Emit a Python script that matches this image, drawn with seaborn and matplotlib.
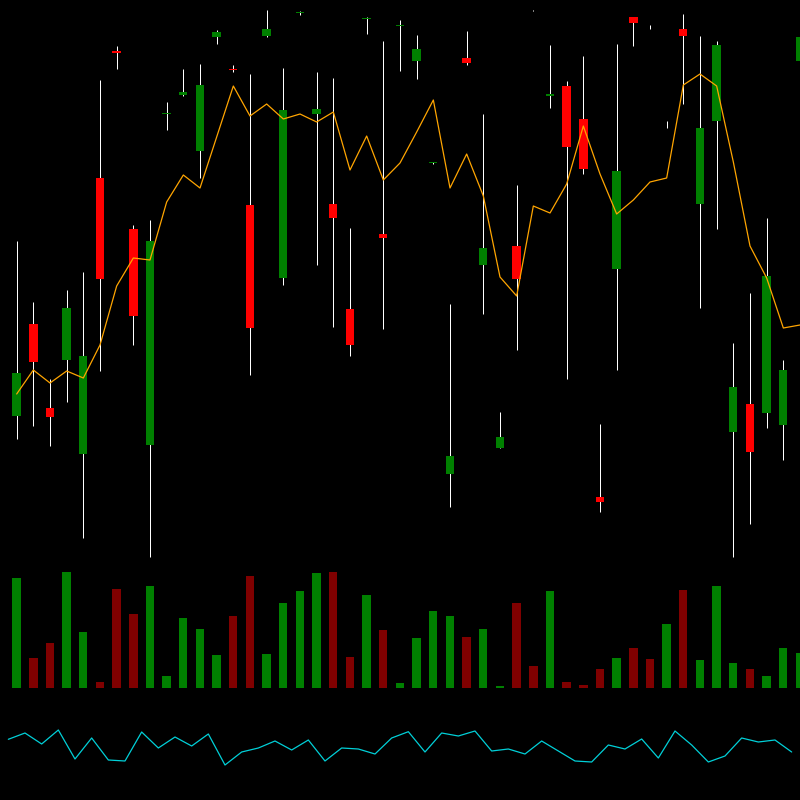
import numpy as np
import pandas as pd
import matplotlib
matplotlib.use('Agg')
import matplotlib.pyplot as plt
import seaborn as sns

# OHLC candles
opens = [114.4, 123.6, 115.2, 120.0, 110.6, 138.2, 150.9, 133.1, 111.5, 144.6, 146.5, 140.9,
         152.3, 149.1, 135.5, 152.4, 128.2, 154.7, 144.6, 135.6, 125.1, 154.1, 132.6, 153.4,
         149.9, 139.65, 108.6, 150.2, 129.5, 111.2, 131.4, 155.0, 146.4, 147.4, 144.1, 106.3,
         129.1, 154.3, 153.3, 143.52, 153.1, 135.6, 143.9, 112.8, 115.6, 114.7, 113.5, 149.9]
highs = [131.9, 125.8, 118.1, 127.0, 128.8, 148.0, 151.4, 133.5, 134.0, 145.8, 149.1, 149.6,
         153.0, 149.5, 148.6, 155.0, 149.2, 154.9, 148.8, 148.2, 133.2, 154.3, 151.9, 154.0,
         152.5, 139.8, 125.6, 152.9, 144.6, 114.8, 137.5, 155.05, 151.5, 147.9, 150.4, 113.6,
         151.6, 154.3, 153.5, 143.9, 154.6, 152.4, 151.9, 121.7, 126.7, 134.2, 120.0, 153.1]
lows = [112.1, 113.4, 111.4, 115.8, 102.2, 118.9, 149.1, 121.5, 100.3, 143.0, 146.4, 138.2,
        151.6, 148.8, 118.5, 152.3, 127.5, 154.5, 129.5, 123.3, 120.4, 152.6, 123.1, 148.9,
        148.1, 139.6, 105.3, 149.5, 124.6, 111.2, 121.0, 154.9, 145.2, 118.1, 138.6, 104.8,
        119.0, 151.4, 153.1, 143.2, 145.6, 125.2, 133.1, 100.3, 103.6, 113.2, 110.0, 149.7]
closes = [118.7, 119.8, 114.3, 125.2, 120.4, 128.1, 150.7, 124.4, 131.9, 144.7, 146.8, 147.5,
          152.8, 149.0, 123.2, 153.1, 145.0, 154.8, 145.1, 134.2, 121.5, 154.2, 132.2, 153.5,
          151.1, 139.75, 110.4, 149.7, 131.2, 112.3, 128.1, 154.97, 146.6, 141.3, 139.1, 105.8,
          138.9, 153.7, 153.25, 143.53, 152.4, 143.2, 151.5, 117.3, 110.8, 128.4, 119.0, 152.3]

# orange overlay line
avg_line = [116.6, 119.0, 117.7, 118.9, 118.2, 121.5, 127.4, 130.2, 130.0, 135.8, 138.5, 137.2,
            142.3, 147.4, 144.4, 145.6, 144.1, 144.6, 143.8, 144.8, 139.0, 142.4, 138.0, 139.7,
            142.8, 146.0, 137.2, 140.6, 136.4, 128.3, 126.4, 135.4, 134.7, 137.6, 143.4, 138.6,
            134.6, 136.0, 137.8, 138.2, 147.5, 148.6, 147.4, 139.8, 131.4, 128.2, 123.2, 123.5]

volume = [11040, 2970, 4470, 11570, 5570, 600, 9870, 7370, 10170, 1170, 6970, 5870,
          3270, 7170, 11170, 3370, 8470, 9670, 11470, 11570, 3070, 9270, 5770, 470,
          4970, 7670, 7170, 5070, 5870, 170, 8470, 2170, 9670, 570, 270, 1870,
          2970, 3970, 2870, 6370, 9770, 2770, 10170, 2470, 1870, 1170, 3970, 3470]

# cyan oscillator
osc = [60.7, 67, 56, 70, 41, 62, 40, 39, 68, 52, 63, 54,
       66, 35, 48, 52, 59, 50, 60, 39, 52, 51, 46, 62,
       68.3, 48, 67, 64, 69, 49, 51, 46, 59, 49, 39, 38,
       55, 51, 61, 42, 69, 55, 38, 44, 62, 58, 60, 48]

n = len(opens)
df = pd.DataFrame({'x': np.arange(1, n + 1), 'open': opens, 'high': highs, 'low': lows,
                   'close': closes, 'avg': avg_line, 'volume': volume})
df['up'] = df['close'] >= df['open']
df_osc = pd.DataFrame({'x': np.arange(n), 'osc': osc})

sns.set_style('dark', {'axes.facecolor': 'black', 'figure.facecolor': 'black'})

fig = plt.figure(figsize=(8, 8), dpi=100, facecolor='black')
ax1 = fig.add_axes([0, 0.3, 1, 0.7])
ax2 = fig.add_axes([0, 0.14, 1, 0.15])
ax3 = fig.add_axes([0, 0.0, 1, 0.125])

# candles
ax1.vlines(df['x'], df['low'], df['high'], color='white', linewidth=0.72, zorder=1)
body_bottom = np.minimum(df['open'], df['close'])
body_height = (df['close'] - df['open']).abs()
candle_colors = np.where(df['up'], '#008000', '#ff0000')
ax1.bar(df['x'], body_height, bottom=body_bottom, width=0.5, color=candle_colors,
        linewidth=0, zorder=2)
sns.lineplot(data=df, x='x', y='avg', color='orange', linewidth=0.9, ax=ax1, zorder=3)
ax1.set_xlim(0, 48)
ax1.set_ylim(100, 156)

# volume
vol_colors = np.where(df['up'], '#008000', '#800000')
ax2.bar(df['x'], df['volume'], width=0.5, color=vol_colors, linewidth=0)
ax2.set_xlim(0, 48)
ax2.set_ylim(0, 12000)

# oscillator
sns.lineplot(data=df_osc, x='x', y='osc', color='#00d0d8', linewidth=0.9, ax=ax3)
ax3.set_xlim(-0.5, 47.5)
ax3.set_ylim(0, 100)

for ax in (ax1, ax2, ax3):
    ax.set_facecolor('black')
    ax.axis('off')

fig.savefig('out.png', dpi=100, facecolor='black')
